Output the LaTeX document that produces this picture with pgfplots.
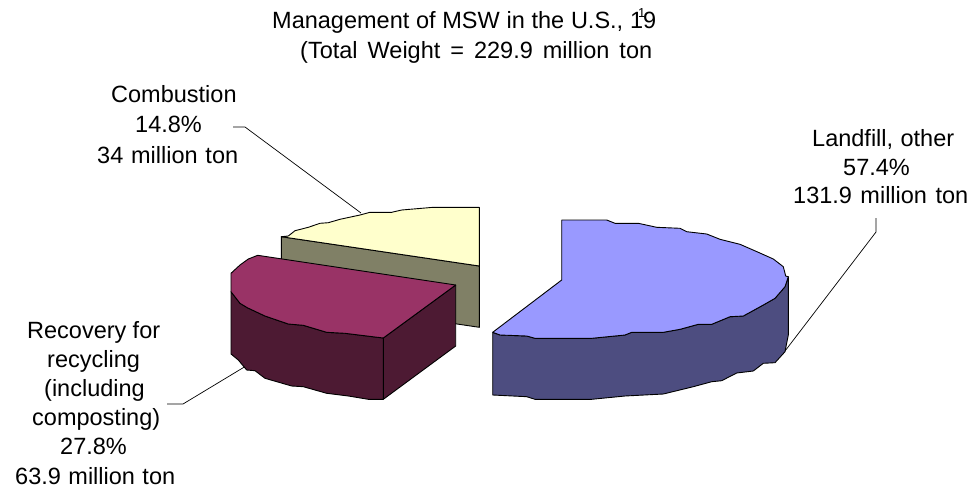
\documentclass[border=0pt]{standalone}
\usepackage{pgfplots}
\pgfplotsset{compat=1.18}
\usepackage{fontspec}
\setmainfont{Liberation Sans}

\definecolor{landtop}{HTML}{9999FF}
\definecolor{landside}{HTML}{4D4D80}
\definecolor{recytop}{HTML}{993366}
\definecolor{recyside}{HTML}{4D1A33}
\definecolor{combtop}{HTML}{FFFFCC}
\definecolor{combside}{HTML}{808066}

% left x, baseline y, width, text (spaces stretched to the width)
\newcommand{\lbl}[4]{\node[anchor=base west,inner sep=0pt,font=\fontsize{23.5}{23.5}\selectfont] at (axis cs:#1,#2) {\makebox[#3pt][s]{#4}};}

\begin{document}
\begin{tikzpicture}
\begin{axis}[
    width=971pt,
    height=488pt,
    scale only axis,
    hide axis,
    xmin=0,xmax=971,
    ymin=0,ymax=488,
    y dir=reverse,
    clip=false,
    every axis plot/.append style={line width=0.9pt,draw=black,line join=round}
]
% keeps the page at the full size, hide axis drops the box otherwise
\path (axis cs:0,0) rectangle (axis cs:971,488);

% leader lines
\addplot[line width=0.7pt] coordinates {(233,127) (245,127) (361,213)};
\addplot[line width=0.7pt] coordinates {(876,218) (876,232) (785,351)};
\addplot[line width=0.7pt] coordinates {(167,404) (183,404) (246,366)};

% combustion slice
\addplot[fill=combside] coordinates {(281.3,236.7) (479.3,266) (479.3,327.3) (281.3,298)} --cycle;
\addplot[fill=combtop] coordinates {(281.3,236.7) (288.3,236) (295,230.7) (308.3,227.3) (320,223.3) (328.3,222.7) (340,219.3) (360,215) (370,212.3) (391.7,212.3) (401.7,210) (433.3,207.3) (479.3,207.3) (479.3,266)} --cycle;

% recovery slice
\addplot[fill=recyside] coordinates {(383.3,338) (455.7,285) (455.7,346) (383.3,399.3)} --cycle;
\addplot[fill=recyside] coordinates {(231,291.7) (240,303.3) (247.3,307.7) (265,316) (288.3,324) (303.3,325.3) (326.7,332.3) (345,333.3) (383.3,338) (383.3,399.3) (368.3,399.3) (348.3,396) (326.7,393.3) (303.3,386.7) (291.7,386) (265,378.3) (255,370.7) (246.7,370) (238.3,360) (231,354)} --cycle;
\addplot[fill=recytop] coordinates {(257.7,255.3) (455.7,285) (383.3,338) (345,333.3) (326.7,332.3) (303.3,325.3) (288.3,324) (265,316) (247.3,307.7) (240,303.3) (231,291.7) (231,273.3) (240,265) (248.3,259)} --cycle;

% landfill slice
\addplot[fill=landside] coordinates {(492.7,332.3) (500,335) (526.7,336) (535,338.3) (591.7,338.3) (625,335) (631.7,332.3) (663.3,332.3) (680,329.3) (698.3,324.3) (711.7,324.3) (730,316.7) (743.3,316) (763.3,305) (775,298.3) (785,286.7) (788.3,276.7) (788.3,335) (785,351.7) (775,362.7) (763.3,363.3) (753.3,371) (736.7,373) (721.7,380.7) (711.7,381.7) (693.3,386.7) (663.3,394) (625,396) (591.7,399.3) (535,399.3) (526.7,396.7) (492.7,395)} --cycle;
\addplot[fill=landtop] coordinates {(561.7,220) (606.7,220) (615,223.3) (638.3,223.3) (656.7,227.3) (680,228.3) (686.7,231.7) (706.7,234) (720,239.3) (740,244.3) (758.3,252.3) (773.3,259) (783.3,266.7) (785.7,276) (788.3,276.7) (785,286.7) (775,298.3) (763.3,305) (743.3,316) (730,316.7) (711.7,324.3) (698.3,324.3) (680,329.3) (663.3,332.3) (631.7,332.3) (625,335) (591.7,338.3) (535,338.3) (526.7,336) (500,335) (492.7,332.3) (561.7,280)} --cycle;

% title
\lbl{272}{28}{384}{Management of MSW in the U.S., 19}
\node[anchor=base west,inner sep=0pt,font=\fontsize{13}{13}\selectfont] at (axis cs:638,17) {1};
\lbl{300}{58}{352}{(Total Weight = 229.9 million ton}

% slice labels
\lbl{812}{146}{142}{Landfill, other}
\lbl{843}{175}{67}{57.4\%}
\lbl{793}{203}{175}{131.9 million ton}

\lbl{111}{102}{125}{Combustion}
\lbl{135}{132}{67}{14.8\%}
\lbl{97}{163}{141}{34 million ton}

\lbl{27}{338}{133}{Recovery for}
\lbl{47}{367}{90}{recycling}
\lbl{44}{396}{98}{(including}
\lbl{32}{425}{133}{composting)}
\lbl{60}{454}{67}{27.8\%}
\lbl{15}{484}{160}{63.9 million ton}

\end{axis}
\end{tikzpicture}
\end{document}
